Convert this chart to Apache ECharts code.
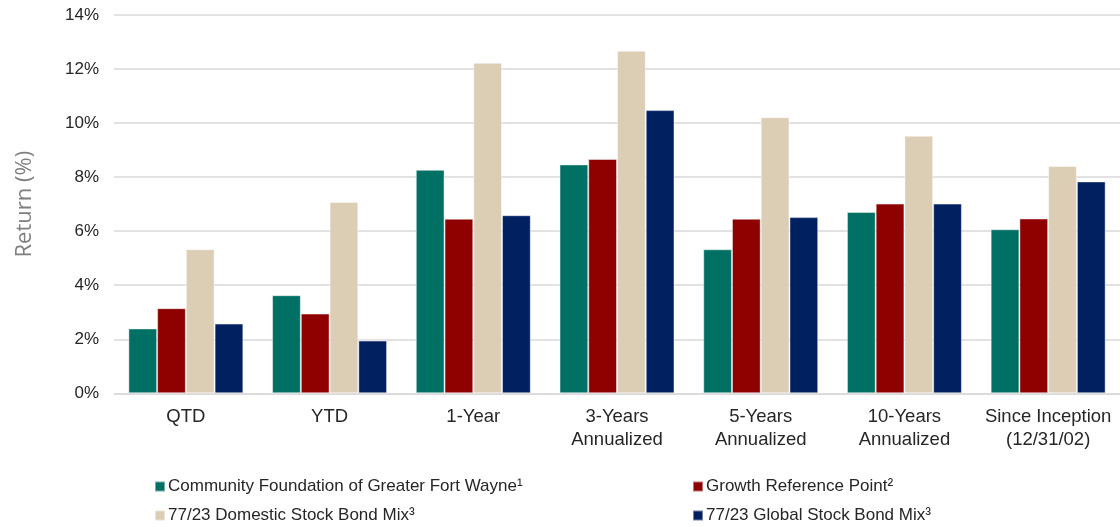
<!DOCTYPE html>
<html>
<head>
<meta charset="utf-8">
<script src="https://cdn.jsdelivr.net/npm/echarts@6/dist/echarts.min.js"></script>
<style>
html,body{margin:0;padding:0;background:#fff;}
#chart{width:1120px;height:527px;}
</style>
</head>
<body>
<div id="chart"></div>
<script>
var categories = ['QTD', 'YTD', '1-Year', '3-Years\nAnnualized', '5-Years\nAnnualized', '10-Years\nAnnualized', 'Since Inception\n(12/31/02)'];
var seriesNames = ['Community Foundation of Greater Fort Wayne\u00b9', 'Growth Reference Point\u00b2', '77/23 Domestic Stock Bond Mix\u00b3', '77/23 Global Stock Bond Mix\u00b3'];
var cfgfw = [2.4, 3.63, 8.27, 8.47, 5.33, 6.71, 6.07];
var growthRef = [3.15, 2.95, 6.46, 8.67, 6.46, 7.02, 6.47];
var domesticMix = [5.33, 7.08, 12.23, 12.68, 10.22, 9.53, 8.41];
var globalMix = [2.58, 1.95, 6.59, 10.48, 6.52, 7.02, 7.84];
var yTicks = [0, 2, 4, 6, 8, 10, 12, 14];

var colors = ['#007064', '#8f0000', '#dccdb5', '#002060'];
var fontFam = '"Liberation Sans", Arial, sans-serif';
var dataSets = [cfgfw, growthRef, domesticMix, globalMix];

var chart = echarts.init(document.getElementById('chart'));
var series = dataSets.map(function (d, i) {
  return {
    name: seriesNames[i],
    type: 'bar',
    data: d,
    barGap: '0%',
    barCategoryGap: '20%',
    itemStyle: { color: colors[i], borderColor: 'rgba(255,255,255,0.45)', borderWidth: 1 }
  };
});
var legendText = { fontFamily: fontFam, fontSize: 17, color: '#262626', padding: [0, 0, 0, -2] };
var legendPos = [[149, 473], [687, 473], [149, 502], [687, 502]];
var legends = seriesNames.map(function (n, i) {
  return {
    data: [n], left: legendPos[i][0], top: legendPos[i][1],
    itemWidth: 10, itemHeight: 10, itemGap: 4, icon: 'rect', textStyle: legendText
  };
});
chart.setOption({
  animation: false,
  backgroundColor: '#fff',
  grid: { left: 114, top: 15, width: 1014, height: 378.3, containLabel: false },
  xAxis: {
    type: 'category',
    data: categories,
    axisLine: { show: true, lineStyle: { color: '#d9d9d9', width: 1.5 } },
    axisTick: { show: false },
    axisLabel: { fontFamily: fontFam, fontSize: 18.5, color: '#262626', lineHeight: 23, margin: 12, interval: 0 }
  },
  yAxis: {
    type: 'value',
    min: yTicks[0],
    max: yTicks[yTicks.length - 1],
    interval: 2,
    name: 'Return (%)',
    nameLocation: 'middle',
    nameGap: 78,
    nameTextStyle: { fontFamily: '"Open Sans", "Liberation Sans", sans-serif', fontSize: 22, color: '#7f7f7f' },
    axisLine: { show: false },
    axisTick: { show: false },
    splitLine: { lineStyle: { color: '#d9d9d9', width: 1.5 } },
    axisLabel: { fontFamily: fontFam, fontSize: 17, color: '#262626', margin: 15, formatter: '{value}%' }
  },
  legend: legends,
  series: series
});
</script>
</body>
</html>
